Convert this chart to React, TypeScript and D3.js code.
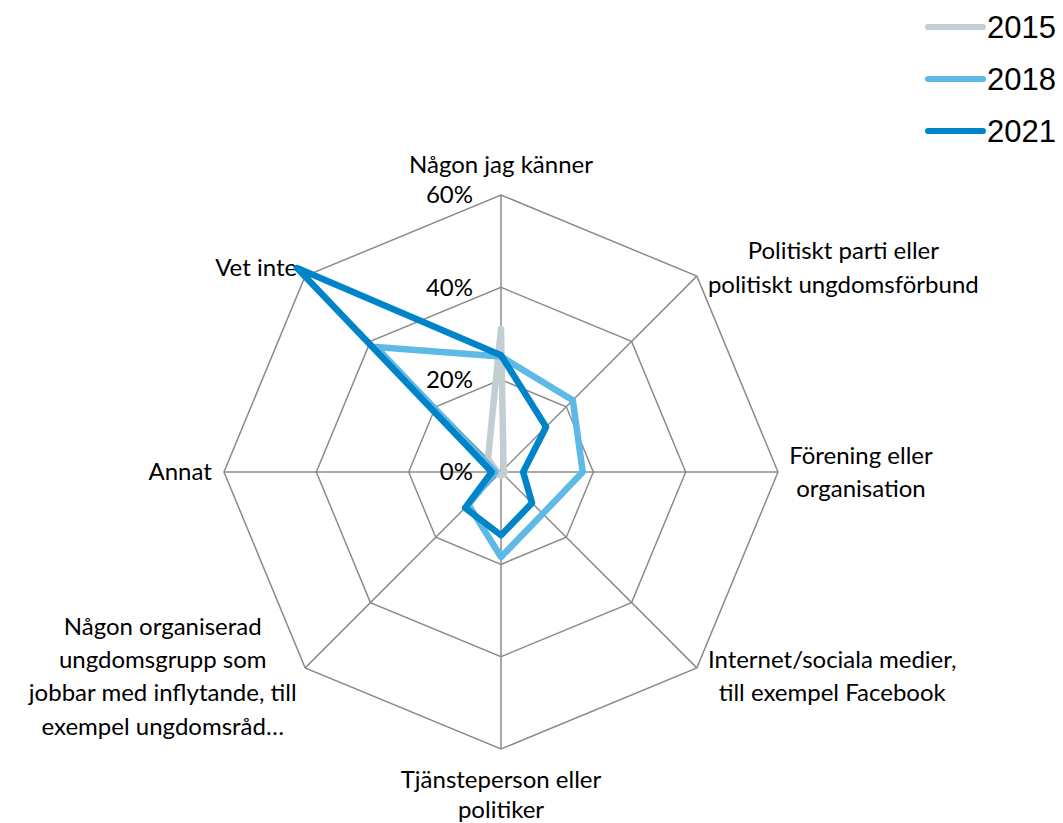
import React, { useEffect, useRef } from "react";
import * as d3 from "d3";

// category labels, one entry per spoke (clockwise from top), split in lines
const categories = [
  ["Någon jag känner"],
  ["Politiskt parti eller", "politiskt ungdomsförbund"],
  ["Förening eller", "organisation"],
  ["Internet/sociala medier,", "till exempel Facebook"],
  ["Tjänsteperson eller", "politiker"],
  ["Någon organiserad", "ungdomsgrupp som", "jobbar med inflytande, till", "exempel ungdomsråd…"],
  ["Annat"],
  ["Vet inte"],
];
const years = ["2015", "2018", "2021"];
const values2015 = [31, 0.8, 0.8, 0.8, 0.8, 0.8, 0.8, 4];
const values2018 = [25, 22, 17.7, 12.8, 18.4, 10, 1.2, 38.3];
const values2021 = [25.3, 13.8, 4.8, 9.5, 13.7, 11, 2, 62.5];
const colors = ["#C3CED2", "#5DB9E6", "#0084C9"];
const tickValues = [0, 20, 40, 60];

const width = 1063,
  height = 823;

function App() {
  const svgRef = useRef<SVGSVGElement>(null);

  useEffect(() => {
    const svg = d3.select(svgRef.current);
    svg.selectAll("*").remove();

    const cx = 501,
      cy = 472,
      radius = 277;
    const labelFont = "Lato, 'Open Sans', sans-serif";
    const fontSize = 24;

    const r = d3.scaleLinear().domain([0, 60]).range([0, radius]);
    const angle = d3
      .scaleLinear()
      .domain([0, categories.length])
      .range([0, 2 * Math.PI]);

    const g = svg.append("g").attr("transform", `translate(${cx},${cy})`);

    const point = (i: number, v: number): [number, number] => [
      Math.sin(angle(i)) * r(v),
      -Math.cos(angle(i)) * r(v),
    ];

    // grid rings
    tickValues.slice(1).forEach((t) => {
      g.append("path")
        .attr("d", d3.line()(categories.map((_, i) => point(i, t))) + "Z")
        .attr("fill", "none")
        .attr("stroke", "#8c8c8c")
        .attr("stroke-width", 1.5);
    });
    // spokes
    categories.forEach((_, i) => {
      const [x, y] = point(i, 60);
      g.append("line")
        .attr("x1", 0)
        .attr("y1", 0)
        .attr("x2", x)
        .attr("y2", y)
        .attr("stroke", "#8c8c8c")
        .attr("stroke-width", 1.5);
    });

    // tick labels
    tickValues.forEach((t) => {
      g.append("text")
        .attr("x", -28)
        .attr("y", -r(t))
        .attr("dy", "0.35em")
        .attr("text-anchor", "end")
        .attr("font-family", labelFont)
        .attr("font-size", fontSize)
        .attr("fill", "#000")
        .text(t + "%");
    });

    // category labels
    const lineH = 33.5;
    categories.forEach((lines, i) => {
      const [vx, vy] = point(i, 60);
      const lh = i === 4 ? 30 : lineH;
      const lbl = g
        .append("text")
        .attr("font-family", labelFont)
        .attr("font-size", fontSize)
        .attr("fill", "#000")
        .attr("text-anchor", "middle");
      lines.forEach((l, k) => {
        lbl
          .append("tspan")
          .attr("x", 0)
          .attr("y", k * lh)
          .attr("dy", "0.35em")
          .text(l);
      });
      const w = (lbl.node() as SVGTextElement).getBBox().width;
      const blockH = (lines.length - 1) * lh;
      const sx = Math.sin(angle(i)),
        sy = -Math.cos(angle(i));
      let x = vx,
        y = vy + sy * 12 - blockH / 2;
      if (sx > 0.1) x = vx + 11 + w / 2;
      else if (sx < -0.1) x = vx - (i === 6 ? 12 : 8) - w / 2;
      if (i === 0) y = vy - 30;
      if (i === 4) y = vy + 31;
      lbl.attr("transform", `translate(${x},${y})`);
    });

    // series
    const series = [values2015, values2018, values2021];
    const radial = d3
      .lineRadial<number>()
      .angle((_, i) => angle(i))
      .radius((d) => r(d))
      .curve(d3.curveLinearClosed);
    series.forEach((vals, s) => {
      g.append("path")
        .attr("d", radial(vals))
        .attr("fill", "none")
        .attr("stroke", colors[s])
        .attr("stroke-width", 6.5)
        .attr("stroke-linejoin", "round")
        .attr("stroke-linecap", "round");
    });

    // legend
    const legend = svg.append("g");
    const ly = d3.scalePoint().domain(years).range([27, 131]);
    years.forEach((yr, s) => {
      legend
        .append("line")
        .attr("x1", 928)
        .attr("x2", 983)
        .attr("y1", ly(yr)!)
        .attr("y2", ly(yr)!)
        .attr("stroke", colors[s])
        .attr("stroke-width", 6)
        .attr("stroke-linecap", "round");
      legend
        .append("text")
        .attr("x", 987)
        .attr("y", ly(yr)!)
        .attr("dy", "0.35em")
        .attr("font-family", "'Liberation Sans', Arial, sans-serif")
        .attr("font-size", 31)
        .text(yr);
    });
  }, []);

  return (
    <div style={{ position: "absolute", left: 0, top: 0 }}>
      <svg ref={svgRef} width={width} height={height} style={{ display: "block", background: "#fff" }} />
    </div>
  );
}

export default App;
